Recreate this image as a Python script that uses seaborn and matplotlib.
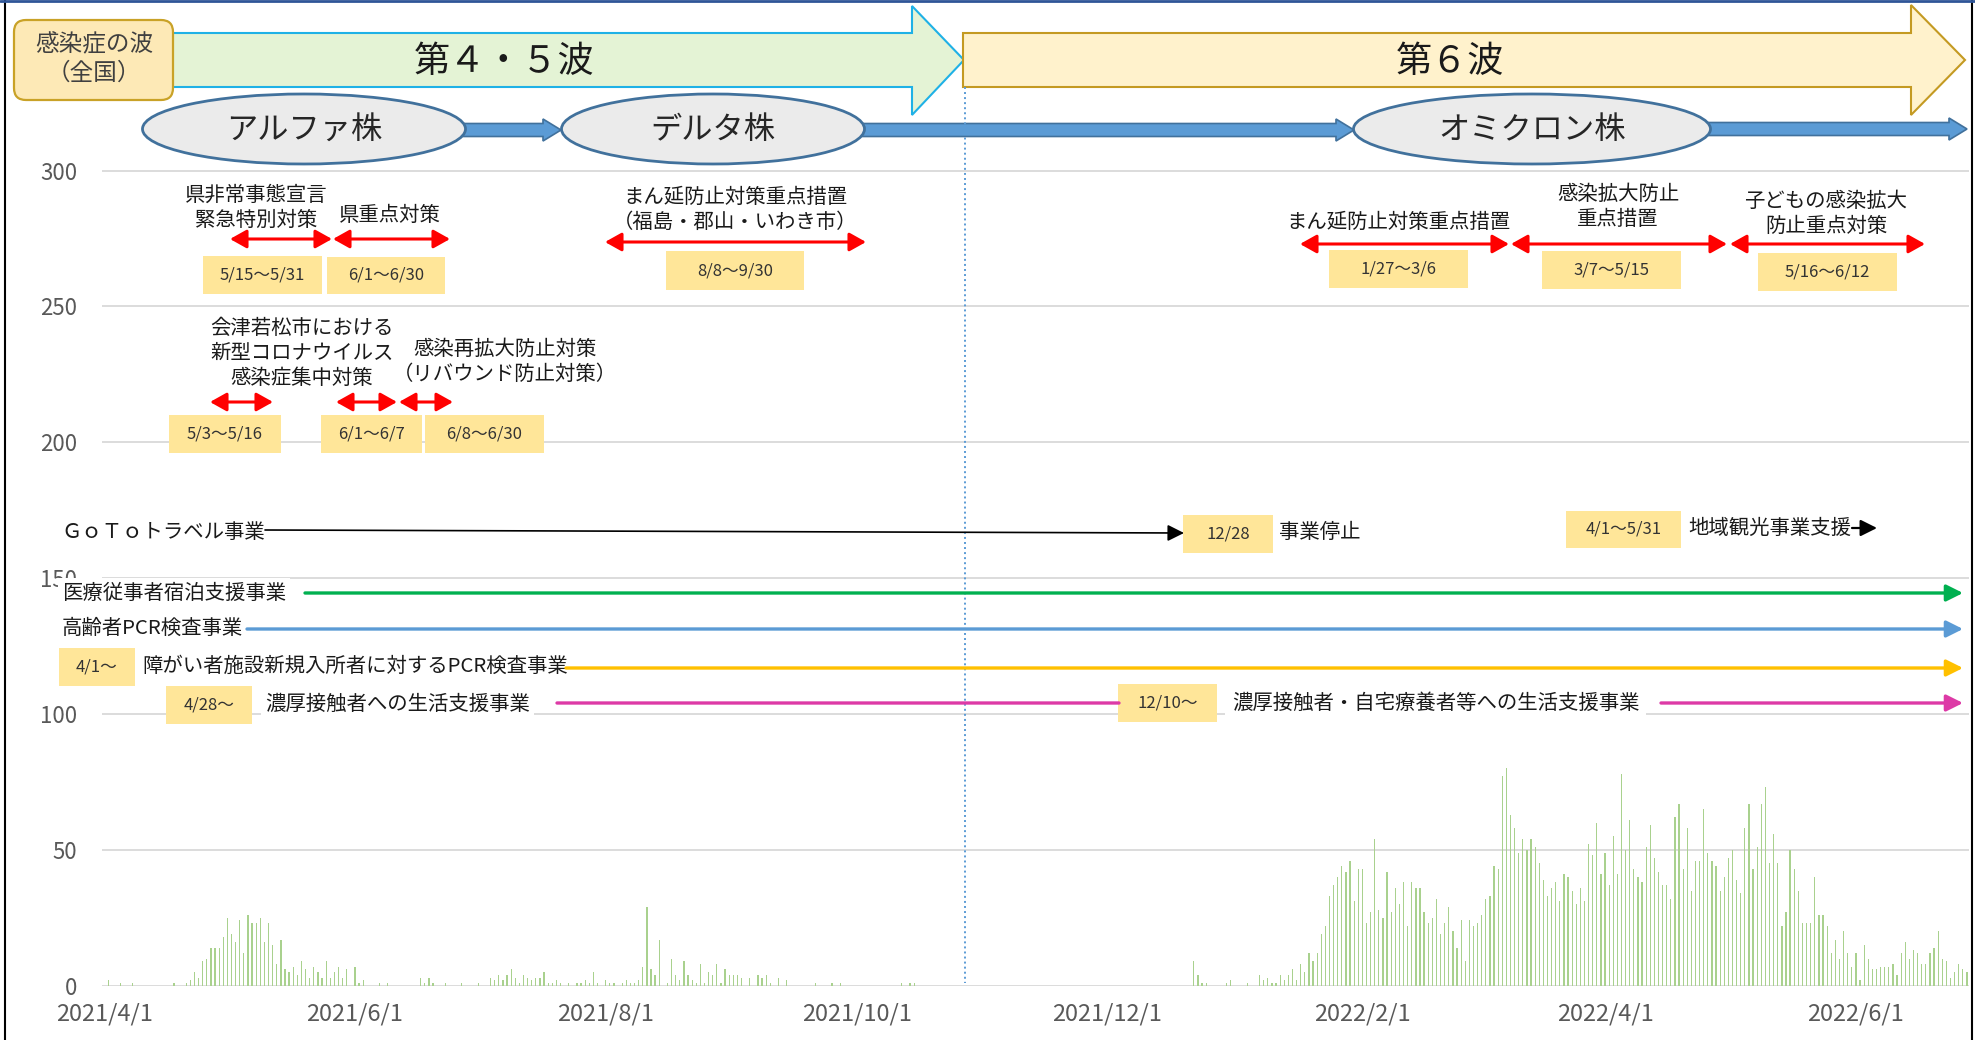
import numpy as np
import pandas as pd
import seaborn as sns
import matplotlib.pyplot as plt
from matplotlib.patches import Polygon, Ellipse, Rectangle, FancyBboxPatch

# daily new cases (2021/4/1 - 2022/6/28), one list per month
apr21 = [0, 2, 0, 0, 1, 0, 0, 1, 0, 0, 0, 0, 0, 0, 0, 0, 0, 1, 0, 0,
         1, 2, 5, 3, 9, 10, 14, 14, 14, 18]
may21 = [25, 19, 16, 24, 12, 26, 23, 23, 25, 16, 23, 15, 8, 17, 6, 5, 7, 4, 9, 6,
         3, 7, 5, 3, 9, 3, 5, 7, 3, 6, 0]
jun21 = [7, 1, 2, 0, 0, 0, 1, 0, 1, 0, 0, 0, 0, 0, 0, 0, 3, 1, 3, 1,
         0, 0, 1, 0, 0, 0, 1, 0, 0, 0]
jul21 = [1, 0, 0, 3, 2, 4, 2, 4, 6, 3, 1, 4, 3, 2, 3, 3, 5, 1, 1, 2,
         1, 0, 1, 0, 1, 1, 2, 1, 5, 1, 0]
aug21 = [2, 1, 1, 0, 1, 2, 1, 1, 2, 7, 29, 6, 4, 17, 0, 1, 10, 4, 2, 9,
         4, 2, 1, 8, 1, 5, 4, 8, 1, 6, 4]
sep21 = [4, 4, 3, 0, 3, 0, 4, 3, 4, 1, 0, 3, 0, 2, 0, 0, 0, 0, 0, 0,
         1, 0, 0, 0, 1, 0, 1, 0, 0, 0]
oct21 = [0, 0, 0, 0, 0, 0, 0, 0, 0, 0, 0, 1, 0, 1, 1, 0, 0, 0, 0, 0,
         0, 0, 0, 0, 0, 0, 0, 0, 0, 0, 0]
nov21 = [0] * 30
dec21 = [0, 0, 0, 0, 0, 0, 0, 0, 0, 0, 0, 0, 0, 0, 0, 0, 0, 0, 0, 0,
         0, 9, 4, 1, 1, 0, 0, 0, 0, 1, 2]
jan22 = [0, 0, 0, 1, 0, 0, 4, 2, 3, 1, 1, 4, 2, 4, 6, 2, 8, 5, 12, 9,
         12, 19, 22, 33, 37, 40, 44, 42, 46, 31, 43]
feb22 = [43, 23, 27, 54, 28, 25, 42, 27, 36, 30, 38, 22, 38, 36, 36, 27, 23, 25, 32, 19,
         23, 29, 20, 14, 24, 9, 24, 22]
mar22 = [23, 26, 32, 33, 44, 43, 77, 80, 63, 58, 49, 54, 50, 54, 51, 45, 39, 33, 36, 38,
         31, 41, 40, 35, 30, 36, 31, 52, 48, 60, 41]
apr22 = [49, 37, 55, 41, 78, 50, 61, 43, 40, 38, 51, 59, 47, 42, 37, 37, 32, 62, 67, 43,
         58, 35, 46, 46, 65, 49, 46, 44, 35, 40]
may22 = [47, 50, 39, 34, 58, 67, 43, 51, 67, 73, 45, 56, 45, 22, 27, 50, 43, 35, 23, 23,
         23, 40, 26, 26, 22, 12, 17, 10, 20, 12, 7]
jun22 = [12, 2, 15, 10, 6, 6, 7, 7, 7, 8, 4, 12, 16, 10, 13, 12, 8, 8, 12, 14,
         20, 10, 9, 3, 5, 8, 6, 5]

cases = (apr21 + may21 + jun21 + jul21 + aug21 + sep21 + oct21 + nov21 + dec21
         + jan22 + feb22 + mar22 + apr22 + may22 + jun22)
dates = pd.date_range("2021-04-01", periods=len(cases), freq="D")
df = pd.DataFrame({"date": dates.strftime("%Y/%m/%d"), "cases": cases})

yticks = [0, 50, 100, 150, 200, 250, 300]
xtick_dates = ["2021-04-01", "2021-06-01", "2021-08-01", "2021-10-01",
               "2021-12-01", "2022-02-01", "2022-04-01", "2022-06-01"]
xtick_labels = ["2021/4/1", "2021/6/1", "2021/8/1", "2021/10/1",
                "2021/12/1", "2022/2/1", "2022/4/1", "2022/6/1"]

sns.set_theme(style="white")
plt.rcParams["font.family"] = ["Noto Sans CJK JP", "DejaVu Sans"]

W, H = 1975, 1040
fig = plt.figure(figsize=(W / 100, H / 100), dpi=100)
ax = fig.add_axes([102 / W, 54.3 / H, 1867 / W, 985.7 / H])
sns.barplot(data=df, x="date", y="cases", color="#a9d18e", saturation=1,
            width=0.3, linewidth=0, ax=ax)
ax.set_xlim(-0.5, len(cases) - 0.5)
ax.set_ylim(0, 362.8)
pos = [dates.get_loc(pd.Timestamp(d)) for d in xtick_dates]
ax.set_xticks(pos, xtick_labels)
ax.set_yticks(yticks)
ax.grid(axis="y", color="#d9d9d9", lw=1.3)
ax.grid(axis="x", visible=False)
ax.set_axisbelow(True)
for s in ax.spines.values():
    s.set_visible(False)
ax.tick_params(axis="both", length=0, colors="#595959")
ax.tick_params(axis="x", labelsize=17, pad=12)
ax.tick_params(axis="y", labelsize=16, pad=18)
ax.set_xlabel("")
ax.set_ylabel("")

# overlay in pixel units for the annotations
ov = fig.add_axes([0, 0, 1, 1])
ov.set_xlim(0, W)
ov.set_ylim(H, 0)
ov.axis("off")
ov.patch.set_alpha(0)

TXT = "#1a1a1a"

# wave arrows
ov.add_patch(Polygon([(160, 33), (912, 33), (912, 6), (964, 60), (912, 115), (912, 87), (160, 87)],
                     closed=True, fc="#e4f3d5", ec="#1fb1e6", lw=1.5))
ov.add_patch(Polygon([(963, 33), (1911, 33), (1911, 5), (1965, 60), (1911, 115), (1911, 87), (963, 87)],
                     closed=True, fc="#fff2cc", ec="#c49a22", lw=1.5))
ov.text(504, 62, "第４・５波", ha="center", va="center", fontsize=26, color=TXT)
ov.text(1450, 62, "第６波", ha="center", va="center", fontsize=26, color=TXT)

ov.add_patch(FancyBboxPatch((14, 20), 159, 80, boxstyle="round,pad=0,rounding_size=12",
                            fc="#fde9b6", ec="#c9a227", lw=1.6))
ov.text(94, 59, "感染症の波\n（全国）", ha="center", va="center", fontsize=17,
        color="#404040", linespacing=1.3)

# dotted divider
ov.plot([965, 965], [87, 983], color="#5b9bd5", lw=1.4, ls=(0, (1, 1.6)))


def block_arrow(x0, x1, y, half=6.5, head=11, hl=18):
    ov.add_patch(Polygon([(x0, y - half), (x1 - hl, y - half), (x1 - hl, y - head), (x1, y),
                          (x1 - hl, y + head), (x1 - hl, y + half), (x0, y + half)],
                         closed=True, fc="#5b9bd5", ec="#41719c", lw=1.2))


block_arrow(460, 561, 130)
block_arrow(860, 1354, 130)
block_arrow(1705, 1967, 129)

for cx, w, label in [(304, 323, "アルファ株"), (713, 303, "デルタ株"), (1532, 357, "オミクロン株")]:
    ov.add_patch(Ellipse((cx, 129), w, 70, fc="#ebebeb", ec="#41719c", lw=2))
    ov.text(cx, 130, label, ha="center", va="center", fontsize=22.5, color="#262626")


def red_arrow(x0, x1, y):
    ov.annotate("", xy=(x1, y), xytext=(x0, y),
                arrowprops=dict(arrowstyle="<|-|>,head_length=0.5,head_width=0.28",
                                color="#ff0000", lw=2.2, mutation_scale=20,
                                shrinkA=0, shrinkB=0))


def date_box(x0, y0, x1, y1, label):
    ov.add_patch(Rectangle((x0, y0), x1 - x0, y1 - y0, fc="#ffe699", ec="none"))
    ov.text((x0 + x1) / 2, (y0 + y1) / 2, label, ha="center", va="center",
            fontsize=12, color="#333333")


def note(x, y, s, ha="center", **kw):
    ov.text(x, y, s, ha=ha, va="center", fontsize=14.7, color=TXT,
            linespacing=1.25, multialignment="center", **kw)


# 2021 measures
note(256, 208, "県非常事態宣言\n緊急特別対策")
red_arrow(230, 332, 239)
note(390, 215, "県重点対策")
red_arrow(333, 450, 239)
date_box(203, 256, 322, 294, "5/15～5/31")
date_box(327, 257, 445, 294, "6/1～6/30")

note(735, 210, "まん延防止対策重点措置\n（福島・郡山・いわき市）")
red_arrow(605, 866, 242)
date_box(666, 251, 804, 290, "8/8～9/30")

note(302, 353, "会津若松市における\n新型コロナウイルス\n感染症集中対策")
red_arrow(210, 273, 402)
date_box(169, 415, 281, 453, "5/3～5/16")
note(505, 362, "感染再拡大防止対策\n（リバウンド防止対策）")
red_arrow(336, 397, 402)
red_arrow(399, 453, 402)
date_box(321, 415, 422, 453, "6/1～6/7")
date_box(425, 415, 544, 453, "6/8～6/30")

# 2022 measures
note(1398, 222, "まん延防止対策重点措置")
red_arrow(1300, 1509, 244)
date_box(1329, 250, 1468, 288, "1/27～3/6")
note(1618, 207, "感染拡大防止\n重点措置")
red_arrow(1511, 1727, 244)
date_box(1542, 251, 1681, 289, "3/7～5/15")
note(1826, 214, "子どもの感染拡大\n防止重点対策")
red_arrow(1730, 1925, 244)
date_box(1758, 253, 1897, 291, "5/16～6/12")

# support programmes


def prog_line(x0, x1, y, color, lw=2.4, head=True):
    ov.annotate("", xy=(x1, y), xytext=(x0, y),
                arrowprops=dict(arrowstyle="-|>,head_length=0.5,head_width=0.25" if head else "-",
                                color=color, lw=lw, mutation_scale=20,
                                shrinkA=0, shrinkB=0))


white = dict(fc="white", ec="none", pad=3)
note(61, 533, "ＧｏＴｏトラベル事業", ha="left")
ov.annotate("", xy=(1184, 533), xytext=(265, 530),
            arrowprops=dict(arrowstyle="-|>,head_length=0.5,head_width=0.25", color="black",
                            lw=1.2, mutation_scale=20, shrinkA=0, shrinkB=0))
date_box(1183, 515, 1273, 553, "12/28")
note(1320, 533, "事業停止")
date_box(1566, 511, 1681, 548, "4/1～5/31")
note(1688, 528, "地域観光事業支援", ha="left")
prog_line(1852, 1877, 528, "black", lw=1.6)

note(62, 593, "医療従事者宿泊支援事業", ha="left", bbox=white)
prog_line(305, 1963, 593, "#00b050")
note(62, 628, "高齢者PCR検査事業", ha="left", bbox=white)
prog_line(247, 1963, 629, "#5b9bd5")
date_box(59, 648, 135, 686, "4/1～")
note(142, 666, "障がい者施設新規入所者に対するPCR検査事業", ha="left", bbox=white)
prog_line(566, 1963, 668, "#ffc000")
date_box(166, 686, 252, 724, "4/28～")
note(265, 704, "濃厚接触者への生活支援事業", ha="left", bbox=white)
prog_line(557, 1119, 703, "#dd3aa6", head=False)
date_box(1118, 684, 1217, 722, "12/10～")
note(1232, 703, "濃厚接触者・自宅療養者等への生活支援事業", ha="left",
     bbox=dict(fc="white", ec="none", pad=5))
prog_line(1661, 1963, 703, "#dd3aa6")

# frame
ov.plot([5, 5], [0, H], color="black", lw=1.5)
ov.plot([1972, 1972], [0, H], color="black", lw=1.5)
ov.plot([0, W], [1, 1], color="#2f5597", lw=2)

fig.savefig("out.png", dpi=100)
